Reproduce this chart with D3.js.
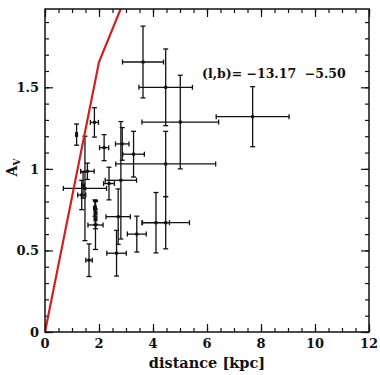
<!DOCTYPE html>
<html>
<head>
<meta charset="utf-8">
<script src="https://cdn.jsdelivr.net/npm/d3@7"></script>
<style>
  body { margin: 0; background: #fff; }
  svg { display: block; }
  text { font-family: "DejaVu Serif", serif; font-weight: bold; fill: #111; }
</style>
</head>
<body>
<div class="chart-container"></div>
<script>
// Data points: distance (kpc), its error, A_V, its error
const distance = [3.63, 4.47, 5.01, 7.69, 4.47, 4.47, 4.11, 1.17, 1.83, 2.19, 2.86, 3.28, 2.81, 2.37, 1.57, 1.48, 1.36, 1.41, 1.87, 1.87, 1.87, 1.85, 2.71, 2.65, 3.40, 1.63];
const distErr  = [0.76, 0.99, 1.42, 1.35, 1.85, 0.88, 0.50, 0.03, 0.15, 0.17, 0.25, 0.40, 0.58, 0.20, 0.25, 0.80, 0.15, 0.05, 0.05, 0.05, 0.28, 0.05, 0.45, 0.36, 0.35, 0.12];
const av       = [1.655, 1.50, 1.287, 1.32, 1.03, 0.67, 0.67, 1.21, 1.285, 1.13, 1.153, 1.09, 0.93, 0.91, 0.985, 0.88, 0.84, 0.90, 0.73, 0.693, 0.656, 0.76, 0.707, 0.483, 0.60, 0.44];
const avErr    = [0.22, 0.235, 0.287, 0.184, 0.20, 0.16, 0.185, 0.065, 0.09, 0.08, 0.10, 0.14, 0.36, 0.10, 0.05, 0.32, 0.09, 0.08, 0.07, 0.06, 0.15, 0.05, 0.17, 0.14, 0.11, 0.10];

// Red model curve
const redDist = [0, 2, 3];
const redAv   = [0, 1.655, 2.06];

// Axis ticks
const xTickVals = [0, 2, 4, 6, 8, 10, 12];
const yTickVals = [0, 0.5, 1, 1.5];
const yTickLabels = ["0", "0.5", "1", "1.5"];

const lbLabel = "(l,b)=";
const lValue = "\u221213.17";
const bValue = "\u22125.50";

// Dimensions
const W = 380, H = 375;
const margin = { top: 9, right: 11, bottom: 43, left: 45 };
const width = W - margin.left - margin.right;
const height = H - margin.top - margin.bottom;

const svg = d3.select(".chart-container")
    .append("svg")
        .attr("width", W)
        .attr("height", H)
    .append("g")
        .attr("transform", `translate(${margin.left}, ${margin.top})`);

const xScale = d3.scaleLinear().domain([0, 12]).range([0, width]);
const yScale = d3.scaleLinear().domain([0, 1.98]).range([height, 0]);

svg.append("clipPath").attr("id", "plot-clip")
    .append("rect").attr("width", width).attr("height", height);

// Ticks on all four sides, pointing inward
function styleAxis(g) {
    g.select(".domain").remove();
    g.selectAll("line").attr("stroke", "#111").attr("stroke-width", 1.2);
}
const xMinor = d3.range(0, 12.01, 0.5);
const yMinor = d3.range(0, 1.95, 0.1);

svg.append("g").attr("transform", `translate(0, ${height})`)
    .call(d3.axisTop(xScale).tickValues(xMinor).tickSize(4).tickFormat(""))
    .call(styleAxis);
svg.append("g").attr("transform", `translate(0, ${height})`)
    .call(d3.axisTop(xScale).tickValues(xTickVals).tickSize(8).tickFormat(""))
    .call(styleAxis);
svg.append("g")
    .call(d3.axisBottom(xScale).tickValues(xMinor).tickSize(4).tickFormat(""))
    .call(styleAxis);
svg.append("g")
    .call(d3.axisBottom(xScale).tickValues(xTickVals).tickSize(8).tickFormat(""))
    .call(styleAxis);
svg.append("g")
    .call(d3.axisRight(yScale).tickValues(yMinor).tickSize(4).tickFormat(""))
    .call(styleAxis);
svg.append("g")
    .call(d3.axisRight(yScale).tickValues(yTickVals).tickSize(8).tickFormat(""))
    .call(styleAxis);
svg.append("g").attr("transform", `translate(${width}, 0)`)
    .call(d3.axisLeft(yScale).tickValues(yMinor).tickSize(4).tickFormat(""))
    .call(styleAxis);
svg.append("g").attr("transform", `translate(${width}, 0)`)
    .call(d3.axisLeft(yScale).tickValues(yTickVals).tickSize(8).tickFormat(""))
    .call(styleAxis);

// Tick labels
svg.append("g").selectAll("text")
    .data(xTickVals)
    .join("text")
        .attr("x", d => xScale(d))
        .attr("y", height + 16)
        .attr("text-anchor", "middle")
        .attr("font-size", 13)
        .text(d => d);
svg.append("g").selectAll("text")
    .data(yTickVals)
    .join("text")
        .attr("x", -6)
        .attr("y", d => yScale(d) + 5)
        .attr("text-anchor", "end")
        .attr("font-size", 13)
        .text((d, i) => yTickLabels[i]);

// Axis titles
svg.append("text")
    .attr("x", width / 2)
    .attr("y", height + 36)
    .attr("text-anchor", "middle")
    .attr("font-size", 14.5)
    .text("distance [kpc]");
const yTitle = svg.append("text")
    .attr("transform", `translate(-28, ${height / 2 - 3}) rotate(-90)`)
    .attr("text-anchor", "middle")
    .attr("font-size", 14);
yTitle.append("tspan").text("A");
yTitle.append("tspan").attr("dy", 3).attr("font-size", 9).text("V");

// Error bars
const pts = distance.map((d, i) => ({ d, dx: distErr[i], a: av[i], da: avErr[i] }));
const bars = svg.append("g").attr("clip-path", "url(#plot-clip)")
    .attr("stroke", "#111").attr("stroke-width", 1.3);
const cap = 2.5;
pts.forEach(p => {
    const x0 = xScale(p.d - p.dx), x1 = xScale(p.d + p.dx);
    const y0 = yScale(p.a - p.da), y1 = yScale(p.a + p.da);
    const cx = xScale(p.d), cy = yScale(p.a);
    bars.append("line").attr("x1", x0).attr("x2", x1).attr("y1", cy).attr("y2", cy);
    bars.append("line").attr("x1", cx).attr("x2", cx).attr("y1", y0).attr("y2", y1);
    bars.append("line").attr("x1", x0).attr("x2", x0).attr("y1", cy - cap).attr("y2", cy + cap);
    bars.append("line").attr("x1", x1).attr("x2", x1).attr("y1", cy - cap).attr("y2", cy + cap);
    bars.append("line").attr("x1", cx - cap).attr("x2", cx + cap).attr("y1", y0).attr("y2", y0);
    bars.append("line").attr("x1", cx - cap).attr("x2", cx + cap).attr("y1", y1).attr("y2", y1);
});
svg.append("g").selectAll("rect")
    .data(pts)
    .join("rect")
        .attr("x", p => xScale(p.d) - 1.5)
        .attr("y", p => yScale(p.a) - 1.5)
        .attr("width", 3)
        .attr("height", 3)
        .attr("fill", "#111");

// Red line
const line = d3.line().x((d, i) => xScale(redDist[i])).y((d, i) => yScale(redAv[i]));
svg.append("path")
    .datum(redDist)
    .attr("clip-path", "url(#plot-clip)")
    .attr("d", line)
    .attr("fill", "none")
    .attr("stroke", "#d41f1f")
    .attr("stroke-width", 2.2);

// Frame
svg.append("rect")
    .attr("width", width)
    .attr("height", height)
    .attr("fill", "none")
    .attr("stroke", "#111")
    .attr("stroke-width", 1.5);

// Label
svg.append("text")
    .attr("x", 157)
    .attr("y", 69)
    .attr("font-size", 12.5)
    .style("white-space", "pre")
    .text(`${lbLabel} ${lValue}  ${bValue}`);
</script>
</body>
</html>
